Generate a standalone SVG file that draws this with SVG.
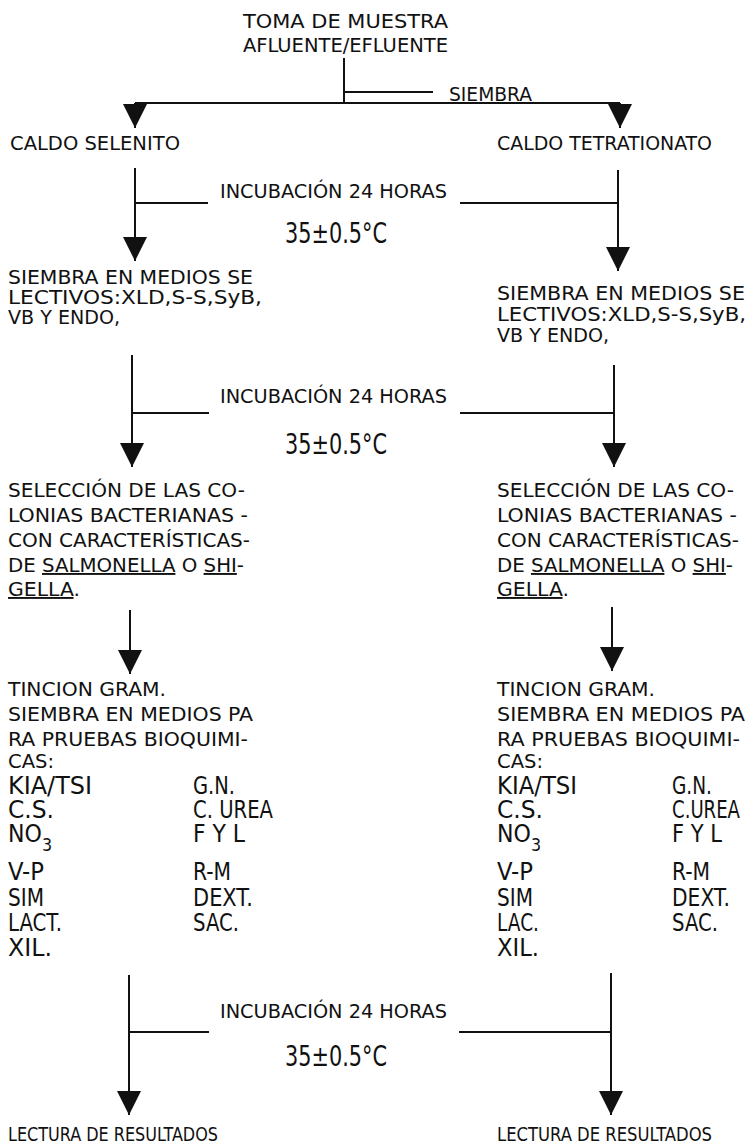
<svg xmlns="http://www.w3.org/2000/svg" width="748" height="1144" viewBox="0 0 748 1144">
<defs>
<style>
text{font-family:"DejaVu Sans Condensed","Liberation Sans",sans-serif;fill:#111;}
.t{font-size:19px;}
.b{font-size:28px;}
.l{font-size:25px;}
.c line{stroke:#111;stroke-width:2;fill:none;}
.u{text-decoration:underline;}
</style>
<marker id="ah" markerUnits="userSpaceOnUse" markerWidth="24" markerHeight="24" refX="22" refY="11" orient="auto" viewBox="0 0 22 22">
<path d="M0,0 L22,11 L0,22 z" fill="#111"/>
</marker>
</defs>
<rect width="748" height="1144" fill="#fff"/>

<g id="connectors" class="c">
<line x1="344" y1="58" x2="344" y2="103"/>
<line x1="344" y1="92" x2="433" y2="92"/>
<line x1="135" y1="103" x2="620" y2="103"/>
<line x1="135" y1="103" x2="135" y2="128" marker-end="url(#ah)"/>
<line x1="620" y1="103" x2="620" y2="128" marker-end="url(#ah)"/>

<line x1="135" y1="168" x2="135" y2="261" marker-end="url(#ah)"/>
<line x1="135" y1="203" x2="208" y2="203"/>
<line x1="618" y1="170" x2="618" y2="271" marker-end="url(#ah)"/>
<line x1="460" y1="203" x2="618" y2="203"/>

<line x1="132" y1="355" x2="132" y2="467" marker-end="url(#ah)"/>
<line x1="132" y1="413" x2="209" y2="413"/>
<line x1="614" y1="365" x2="614" y2="467" marker-end="url(#ah)"/>
<line x1="460" y1="413" x2="614" y2="413"/>

<line x1="130" y1="610" x2="130" y2="674" marker-end="url(#ah)"/>
<line x1="612" y1="607" x2="612" y2="671" marker-end="url(#ah)"/>

<line x1="129" y1="975" x2="129" y2="1115" marker-end="url(#ah)"/>
<line x1="129" y1="1032" x2="209" y2="1032"/>
<line x1="611" y1="973" x2="611" y2="1115" marker-end="url(#ah)"/>
<line x1="459" y1="1032" x2="611" y2="1032"/>
</g>

<g id="n-toma">
<text class="t" x="243" y="28" textLength="205" lengthAdjust="spacingAndGlyphs">TOMA DE MUESTRA</text>
<text class="t" x="243" y="52" textLength="205" lengthAdjust="spacingAndGlyphs">AFLUENTE/EFLUENTE</text>
</g>
<g id="lbl-siembra"><text class="t" x="449" y="101" textLength="83" lengthAdjust="spacingAndGlyphs">SIEMBRA</text></g>

<g id="n-selenito"><text class="t" x="10" y="150" textLength="170" lengthAdjust="spacingAndGlyphs">CALDO SELENITO</text></g>
<g id="n-tetrationato"><text class="t" x="497" y="150" textLength="215" lengthAdjust="spacingAndGlyphs">CALDO TETRATIONATO</text></g>

<g id="lbl-inc1">
<text class="t" x="220" y="198" textLength="227" lengthAdjust="spacingAndGlyphs">INCUBACIÓN 24 HORAS</text>
<text class="b" x="285" y="243" textLength="102" lengthAdjust="spacingAndGlyphs">35±0.5°C</text>
</g>

<g id="n-siembra-l">
<text class="t" x="8" y="284" textLength="245" lengthAdjust="spacingAndGlyphs">SIEMBRA EN MEDIOS SE</text>
<text class="t" x="8" y="304" textLength="254" lengthAdjust="spacingAndGlyphs">LECTIVOS:XLD,S-S,SyB,</text>
<text class="t" x="8" y="324" textLength="112" lengthAdjust="spacingAndGlyphs">VB Y ENDO,</text>
</g>
<g id="n-siembra-r">
<text class="t" x="497" y="300" textLength="248" lengthAdjust="spacingAndGlyphs">SIEMBRA EN MEDIOS SE</text>
<text class="t" x="497" y="321" textLength="249" lengthAdjust="spacingAndGlyphs">LECTIVOS:XLD,S-S,SyB,</text>
<text class="t" x="497" y="342" textLength="112" lengthAdjust="spacingAndGlyphs">VB Y ENDO,</text>
</g>

<g id="lbl-inc2">
<text class="t" x="220" y="403" textLength="227" lengthAdjust="spacingAndGlyphs">INCUBACIÓN 24 HORAS</text>
<text class="b" x="285" y="454" textLength="102" lengthAdjust="spacingAndGlyphs">35±0.5°C</text>
</g>

<g id="n-seleccion-l">
<text class="t" x="8" y="497" textLength="237" lengthAdjust="spacingAndGlyphs">SELECCIÓN DE LAS CO-</text>
<text class="t" x="8" y="522" textLength="240" lengthAdjust="spacingAndGlyphs">LONIAS BACTERIANAS -</text>
<text class="t" x="8" y="547" textLength="242" lengthAdjust="spacingAndGlyphs">CON CARACTERÍSTICAS-</text>
<text class="t" x="8" y="572" textLength="236" lengthAdjust="spacingAndGlyphs">DE <tspan class="u">SALMONELLA</tspan> O <tspan class="u">SHI</tspan>-</text>
<text class="t" x="8" y="596" textLength="72" lengthAdjust="spacingAndGlyphs"><tspan class="u">GELLA</tspan>.</text>
</g>
<g id="n-seleccion-r">
<text class="t" x="497" y="497" textLength="237" lengthAdjust="spacingAndGlyphs">SELECCIÓN DE LAS CO-</text>
<text class="t" x="497" y="522" textLength="240" lengthAdjust="spacingAndGlyphs">LONIAS BACTERIANAS -</text>
<text class="t" x="497" y="547" textLength="242" lengthAdjust="spacingAndGlyphs">CON CARACTERÍSTICAS-</text>
<text class="t" x="497" y="572" textLength="236" lengthAdjust="spacingAndGlyphs">DE <tspan class="u">SALMONELLA</tspan> O <tspan class="u">SHI</tspan>-</text>
<text class="t" x="497" y="596" textLength="72" lengthAdjust="spacingAndGlyphs"><tspan class="u">GELLA</tspan>.</text>
</g>

<g id="n-tincion-l">
<text class="t" x="8" y="696" textLength="158" lengthAdjust="spacingAndGlyphs">TINCION GRAM.</text>
<text class="t" x="8" y="721" textLength="245" lengthAdjust="spacingAndGlyphs">SIEMBRA EN MEDIOS PA</text>
<text class="t" x="8" y="746" textLength="240" lengthAdjust="spacingAndGlyphs">RA PRUEBAS BIOQUIMI-</text>
<text class="t" x="8" y="768" textLength="46" lengthAdjust="spacingAndGlyphs">CAS:</text>
<text class="l" x="8" y="794" textLength="84" lengthAdjust="spacingAndGlyphs">KIA/TSI</text>
<text class="l" x="8" y="818" textLength="46" lengthAdjust="spacingAndGlyphs">C.S.</text>
<text class="l" x="8" y="842" textLength="44" lengthAdjust="spacingAndGlyphs">NO<tspan dy="9" style="font-size:18px">3</tspan></text>
<text class="l" x="8" y="880" textLength="36" lengthAdjust="spacingAndGlyphs">V-P</text>
<text class="l" x="8" y="906" textLength="36" lengthAdjust="spacingAndGlyphs">SIM</text>
<text class="l" x="8" y="931" textLength="54" lengthAdjust="spacingAndGlyphs">LACT.</text>
<text class="l" x="8" y="956" textLength="44" lengthAdjust="spacingAndGlyphs">XIL.</text>
<text class="l" x="193" y="794" textLength="42" lengthAdjust="spacingAndGlyphs">G.N.</text>
<text class="l" x="193" y="818" textLength="80" lengthAdjust="spacingAndGlyphs">C. UREA</text>
<text class="l" x="193" y="842" textLength="52" lengthAdjust="spacingAndGlyphs">F Y L</text>
<text class="l" x="193" y="880" textLength="38" lengthAdjust="spacingAndGlyphs">R-M</text>
<text class="l" x="193" y="906" textLength="60" lengthAdjust="spacingAndGlyphs">DEXT.</text>
<text class="l" x="193" y="931" textLength="46" lengthAdjust="spacingAndGlyphs">SAC.</text>
</g>
<g id="n-tincion-r">
<text class="t" x="497" y="696" textLength="158" lengthAdjust="spacingAndGlyphs">TINCION GRAM.</text>
<text class="t" x="497" y="721" textLength="248" lengthAdjust="spacingAndGlyphs">SIEMBRA EN MEDIOS PA</text>
<text class="t" x="497" y="746" textLength="243" lengthAdjust="spacingAndGlyphs">RA PRUEBAS BIOQUIMI-</text>
<text class="t" x="497" y="768" textLength="46" lengthAdjust="spacingAndGlyphs">CAS:</text>
<text class="l" x="497" y="794" textLength="80" lengthAdjust="spacingAndGlyphs">KIA/TSI</text>
<text class="l" x="497" y="818" textLength="46" lengthAdjust="spacingAndGlyphs">C.S.</text>
<text class="l" x="497" y="842" textLength="44" lengthAdjust="spacingAndGlyphs">NO<tspan dy="9" style="font-size:18px">3</tspan></text>
<text class="l" x="497" y="880" textLength="36" lengthAdjust="spacingAndGlyphs">V-P</text>
<text class="l" x="497" y="906" textLength="36" lengthAdjust="spacingAndGlyphs">SIM</text>
<text class="l" x="497" y="931" textLength="42" lengthAdjust="spacingAndGlyphs">LAC.</text>
<text class="l" x="497" y="956" textLength="42" lengthAdjust="spacingAndGlyphs">XIL.</text>
<text class="l" x="672" y="794" textLength="40" lengthAdjust="spacingAndGlyphs">G.N.</text>
<text class="l" x="672" y="818" textLength="68" lengthAdjust="spacingAndGlyphs">C.UREA</text>
<text class="l" x="672" y="842" textLength="50" lengthAdjust="spacingAndGlyphs">F Y L</text>
<text class="l" x="672" y="880" textLength="38" lengthAdjust="spacingAndGlyphs">R-M</text>
<text class="l" x="672" y="906" textLength="58" lengthAdjust="spacingAndGlyphs">DEXT.</text>
<text class="l" x="672" y="931" textLength="46" lengthAdjust="spacingAndGlyphs">SAC.</text>
</g>

<g id="lbl-inc3">
<text class="t" x="220" y="1018" textLength="227" lengthAdjust="spacingAndGlyphs">INCUBACIÓN 24 HORAS</text>
<text class="b" x="285" y="1066" textLength="102" lengthAdjust="spacingAndGlyphs">35±0.5°C</text>
</g>

<g id="n-lectura-l"><text class="t" x="8" y="1141" textLength="210" lengthAdjust="spacingAndGlyphs">LECTURA DE RESULTADOS</text></g>
<g id="n-lectura-r"><text class="t" x="497" y="1141" textLength="215" lengthAdjust="spacingAndGlyphs">LECTURA DE RESULTADOS</text></g>
</svg>
